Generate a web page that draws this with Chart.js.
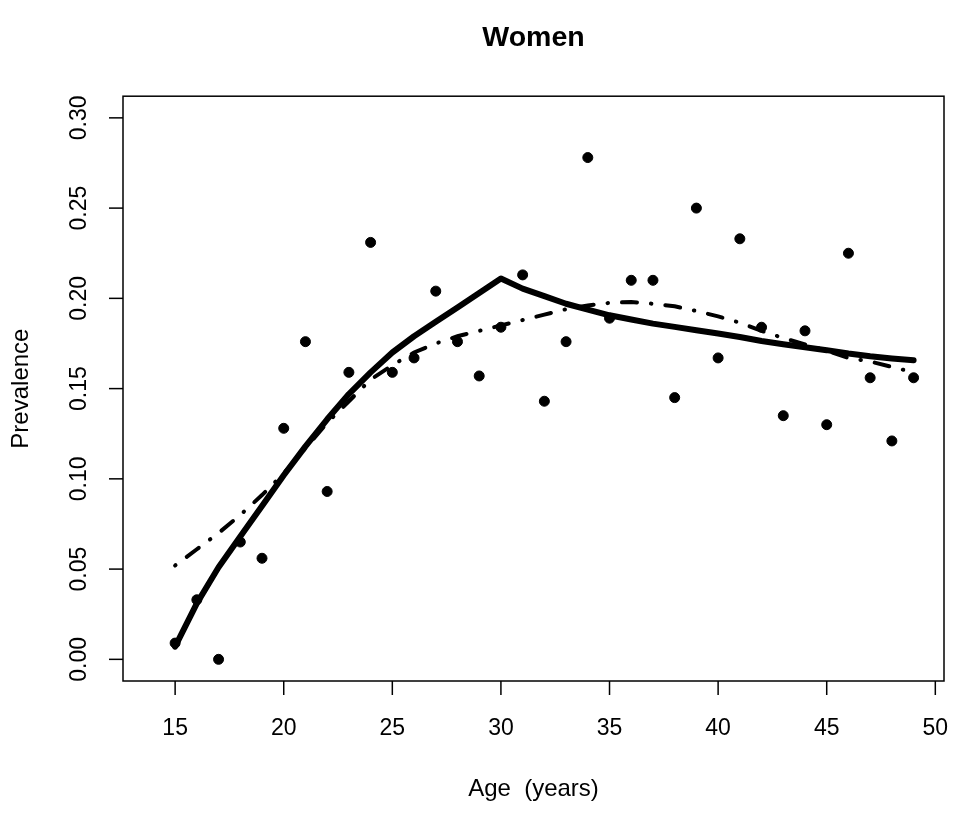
<!DOCTYPE html>
<html>
<head>
<meta charset="utf-8">
<script src="https://cdn.jsdelivr.net/npm/chart.js@4.4.1/dist/chart.umd.min.js"></script>
<style>
  html, body { margin: 0; padding: 0; background: #fff; }
  #wrap { width: 968px; height: 820px; }
</style>
</head>
<body>
<div id="wrap"><canvas id="myChart" width="968" height="820"></canvas></div>
<script>
// observed prevalence by single year of age
const ages = [15,16,17,18,19,20,21,22,23,24,25,26,27,28,29,30,31,32,33,34,35,36,37,38,39,40,41,42,43,44,45,46,47,48,49];
const prevalence = [0.009,0.033,0.000,0.065,0.056,0.128,0.176,0.093,0.159,0.231,0.159,0.167,0.204,0.176,0.157,0.184,0.213,0.143,0.176,0.278,0.189,0.210,0.210,0.145,0.250,0.167,0.233,0.184,0.135,0.182,0.130,0.225,0.156,0.121,0.156];
// fitted curves (solid = piecewise fit, dash-dot = smooth fit)
const fitSolid = [0.007,0.031,0.051,0.068,0.085,0.102,0.118,0.133,0.147,0.159,0.170,0.179,0.187,0.195,0.203,0.211,0.2054,0.2012,0.197,0.1938,0.1906,0.1883,0.186,0.1842,0.1823,0.1805,0.1786,0.1764,0.1746,0.1729,0.1713,0.1694,0.1679,0.1667,0.1657];
const fitDashDot = [0.052,0.061,0.070,0.080,0.091,0.103,0.117,0.131,0.143,0.155,0.163,0.170,0.175,0.179,0.182,0.185,0.188,0.191,0.194,0.196,0.1975,0.198,0.197,0.1956,0.193,0.190,0.1865,0.182,0.178,0.1745,0.171,0.167,0.165,0.162,0.159];

const xTicks = [15,20,25,30,35,40,45,50];
const yTicks = [0,0.05,0.10,0.15,0.20,0.25,0.30];
const yTickLabels = ['0.00','0.05','0.10','0.15','0.20','0.25','0.30'];

const FONT = '"Liberation Sans", Arial, Helvetica, sans-serif';

const toXY = (ys) => ages.map((a, i) => ({x: a, y: ys[i]}));

// R-like box, ticks and axis labels
const rAxes = {
  id: 'rAxes',
  afterDraw(chart) {
    const ctx = chart.ctx;
    const area = chart.chartArea;
    const sx = chart.scales.x, sy = chart.scales.y;
    ctx.save();
    ctx.strokeStyle = '#000';
    ctx.fillStyle = '#000';
    ctx.lineWidth = 1.5;
    ctx.strokeRect(area.left, area.top, area.right - area.left, area.bottom - area.top);

    ctx.font = '23px ' + FONT;
    ctx.textAlign = 'center';
    ctx.textBaseline = 'middle';
    xTicks.forEach(v => {
      const px = sx.getPixelForValue(v);
      ctx.beginPath();
      ctx.moveTo(px, area.bottom);
      ctx.lineTo(px, area.bottom + 14);
      ctx.stroke();
      ctx.fillText(String(v), px, 729);
    });
    yTicks.forEach((v, i) => {
      const py = sy.getPixelForValue(v);
      ctx.beginPath();
      ctx.moveTo(area.left, py);
      ctx.lineTo(area.left - 14, py);
      ctx.stroke();
      ctx.save();
      ctx.translate(80, py);
      ctx.rotate(-Math.PI / 2);
      ctx.fillText(yTickLabels[i], 0, 0);
      ctx.restore();
    });

    ctx.font = '24px ' + FONT;
    const cx = (area.left + area.right) / 2;
    const cy = (area.top + area.bottom) / 2;
    ctx.fillText('Age  (years)', cx, 789);
    ctx.save();
    ctx.translate(21, cy);
    ctx.rotate(-Math.PI / 2);
    ctx.fillText('Prevalence', 0, 0);
    ctx.restore();
    ctx.restore();
  }
};

new Chart(document.getElementById('myChart').getContext('2d'), {
  type: 'scatter',
  data: {
    datasets: [
      {
        label: 'Observed',
        data: toXY(prevalence),
        backgroundColor: '#000',
        borderColor: '#000',
        pointRadius: 5,
        showLine: false,
        order: 3
      },
      {
        type: 'line',
        label: 'Fit (solid)',
        data: toXY(fitSolid),
        borderColor: '#000',
        borderWidth: 6,
        pointRadius: 0,
        tension: 0,
        fill: false,
        borderJoinStyle: 'round',
        borderCapStyle: 'round',
        order: 1
      },
      {
        type: 'line',
        label: 'Fit (dash-dot)',
        data: toXY(fitDashDot),
        borderColor: '#000',
        borderWidth: 4,
        borderDash: [0.5, 14, 15, 14],
        borderCapStyle: 'round',
        pointRadius: 0,
        tension: 0,
        fill: false,
        order: 2
      }
    ]
  },
  options: {
    responsive: false,
    animation: false,
    devicePixelRatio: 1,
    layout: { padding: { left: 123, right: 24, top: 21, bottom: 139 } },
    scales: {
      x: { type: 'linear', min: 12.6, max: 50.4, display: false },
      y: { type: 'linear', min: -0.012, max: 0.312, display: false }
    },
    plugins: {
      legend: { display: false },
      tooltip: { enabled: false },
      title: {
        display: true,
        text: 'Women',
        fullSize: false,
        color: '#000',
        font: { family: FONT, size: 28.5, weight: 'bold' },
        padding: { top: 0, bottom: 41 }
      }
    }
  },
  plugins: [rAxes]
});
</script>
</body>
</html>
